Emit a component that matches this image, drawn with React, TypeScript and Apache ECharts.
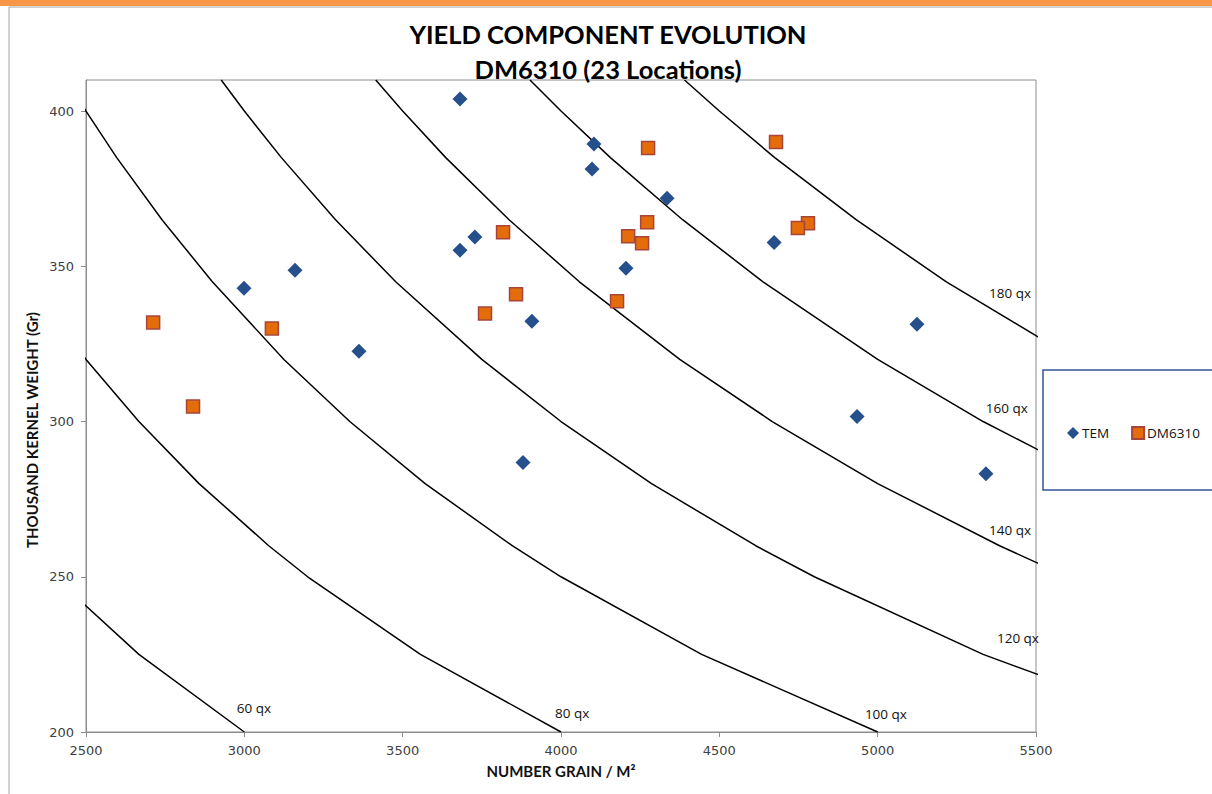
import React, { useEffect, useRef } from "react";
import * as echarts from "echarts";

// Iso-yield curves: [number of grains / m², thousand kernel weight]
const curveNames = ["60 qx", "80 qx", "100 qx", "120 qx", "140 qx", "160 qx", "180 qx"];
const curve60 = [[2308, 260], [2400, 250], [2667, 225], [3000, 200]];
const curve80 = [[2319, 345], [2500, 320], [2667, 300], [2857, 280], [3077, 260], [3200, 250], [3556, 225], [4000, 200]];
const curve100 = [[2439, 410], [2500, 400], [2597, 385], [2740, 365], [2899, 345], [3125, 320], [3333, 300], [3571, 280], [3846, 260], [4000, 250], [4444, 225], [5000, 200]];
const curve120 = [[2927, 410], [3000, 400], [3117, 385], [3288, 365], [3478, 345], [3750, 320], [4000, 300], [4286, 280], [4615, 260], [4800, 250], [5333, 225], [6000, 200]];
const curve140 = [[3415, 410], [3500, 400], [3636, 385], [3836, 365], [4058, 345], [4375, 320], [4667, 300], [5000, 280], [5385, 260], [5600, 250]];
const curve160 = [[3902, 410], [4000, 400], [4156, 385], [4384, 365], [4638, 345], [5000, 320], [5333, 300], [5714, 280]];
const curve180 = [[4390, 410], [4500, 400], [4675, 385], [4932, 365], [5217, 345], [5625, 320]];
const curves = [curve60, curve80, curve100, curve120, curve140, curve160, curve180];

// Label anchors for the curve names (data space)
const curveLabelAnchors = [[3030, 207.7], [4035, 206.1], [5026, 205.8], [5443, 230.3], [5418, 265.2], [5408, 304.2], [5418, 341.3]];

const temPoints = [
  [3681, 403.9], [4104, 389.4], [4098, 381.3], [4335, 371.9], [3728, 359.4], [3681, 355.2],
  [4205, 349.4], [3908, 332.3], [2999, 342.9], [3160, 348.7], [3362, 322.6], [3880, 286.8],
  [4673, 357.7], [5124, 331.3], [4935, 301.6], [5342, 283.2],
];
const dmPoints = [
  [2712, 331.9], [2838, 304.8], [3087, 330.0], [3817, 361.0], [3760, 334.8], [3858, 341.0],
  [4275, 388.1], [4272, 364.2], [4212, 359.7], [4256, 357.4], [4177, 338.7], [4679, 390.0],
  [4780, 363.9], [4748, 362.3],
];

const xTicks = { min: 2500, max: 5500, interval: 500 };
const yTicks = { min: 200, max: 410, interval: 50 };

export default function App() {
  const ref = useRef<HTMLDivElement>(null);
  useEffect(() => {
    if (!ref.current) return;
    const chart = echarts.init(ref.current, null, { renderer: "svg" });
    const lineSeries = curves.map((c, i) => ({
      name: curveNames[i],
      type: "line",
      data: c,
      showSymbol: false,
      symbol: "none",
      clip: true,
      silent: true,
      lineStyle: { color: "#000", width: 1.5 },
      z: 1,
    }));
    const labelSeries = {
      name: "labels",
      type: "scatter",
      symbolSize: 0,
      silent: true,
      data: curveLabelAnchors.map((p, i) => ({ value: p, name: curveNames[i] })),
      itemStyle: { opacity: 1 },
      label: {
        show: true,
        position: "inside",
        formatter: (p: any) => p.name,
        color: "#111",
        fontFamily: "Open Sans",
        fontSize: 13.5,
      },
      z: 2,
    };
    chart.setOption({
      animation: false,
      backgroundColor: "#fff",
      title: [
        {
          text: "YIELD COMPONENT EVOLUTION",
          left: 603,
          top: 16,
          textAlign: "center",
          textStyle: { fontFamily: "Lato", fontWeight: "bold", fontSize: 25.5, color: "#000" },
        },
        {
          text: "DM6310 (23 Locations)",
          left: 603,
          top: 51,
          textAlign: "center",
          textStyle: { fontFamily: "Lato", fontWeight: "bold", fontSize: 25.5, color: "#000" },
        },
      ],
      grid: {
        left: 86,
        top: 80,
        right: 176,
        bottom: 62,
        show: true,
        borderColor: "#8c8c8c",
        borderWidth: 1,
        backgroundColor: "#fff",
      },
      legend: {
        data: [
          { name: "TEM", icon: "diamond" },
          { name: "DM6310", icon: "rect" },
        ],
        left: 1062,
        top: 421,
        itemWidth: 12,
        itemHeight: 12,
        itemGap: 22,
        itemStyle: { opacity: 1 },
        textStyle: { fontFamily: "Open Sans", fontSize: 13.5, color: "#111", padding: [0, 0, 0, -2] },
      },
      xAxis: {
        type: "value",
        min: xTicks.min,
        max: xTicks.max,
        interval: xTicks.interval,
        name: "NUMBER GRAIN / M²",
        nameLocation: "middle",
        nameGap: 31,
        nameTextStyle: { fontFamily: "Lato", fontWeight: "bold", fontSize: 15, color: "#111" },
        axisLine: { lineStyle: { color: "#8c8c8c", width: 1 } },
        axisTick: { show: true, length: 5, lineStyle: { color: "#8c8c8c" } },
        axisLabel: { fontFamily: "DejaVu Sans", fontSize: 13, color: "#404040", margin: 12, formatter: (v: number) => String(v) },
        splitLine: { show: false },
      },
      yAxis: {
        type: "value",
        min: yTicks.min,
        max: yTicks.max,
        interval: yTicks.interval,
        axisLine: { show: true, lineStyle: { color: "#8c8c8c", width: 1 } },
        axisTick: { show: true, length: 5, lineStyle: { color: "#8c8c8c" } },
        axisLabel: { fontFamily: "DejaVu Sans", fontSize: 13, color: "#404040", margin: 12, showMaxLabel: false, formatter: (v: number) => String(v) },
        splitLine: { show: false },
      },
      graphic: [
        { type: "rect", shape: { x: 0, y: 0, width: 1212, height: 6 }, style: { fill: "#F79646" }, z: 100 },
        { type: "rect", shape: { x: 9, y: 7, width: 1220, height: 800 }, style: { fill: "none", stroke: "#a6a6a6", lineWidth: 1 }, z: 100 },
        { type: "rect", shape: { x: 1043, y: 370, width: 180, height: 120 }, style: { fill: "none", stroke: "#2F5597", lineWidth: 1.5 }, z: 100 },
        {
          type: "text",
          x: 32,
          y: 430,
          rotation: Math.PI / 2,
          style: {
            text: "THOUSAND KERNEL WEIGHT (Gr)",
            fill: "#111",
            font: "bold 15px Lato",
            align: "center",
            verticalAlign: "middle",
          },
          z: 100,
        },
      ],
      series: [
        ...lineSeries,
        labelSeries,
        {
          name: "TEM",
          type: "scatter",
          symbol: "diamond",
          symbolSize: 15,
          data: temPoints,
          itemStyle: { color: "#25508C", opacity: 1 },
          z: 5,
        },
        {
          name: "DM6310",
          type: "scatter",
          symbol: "rect",
          symbolSize: 13,
          data: dmPoints,
          itemStyle: { color: "#E46C0A", borderColor: "#A8453B", borderWidth: 1.5, opacity: 1 },
          z: 6,
        },
      ],
    });
    return () => chart.dispose();
  }, []);
  return (
    <div
      ref={ref}
      style={{ position: "fixed", left: 0, top: 0, width: 1212, height: 794 }}
    />
  );
}
